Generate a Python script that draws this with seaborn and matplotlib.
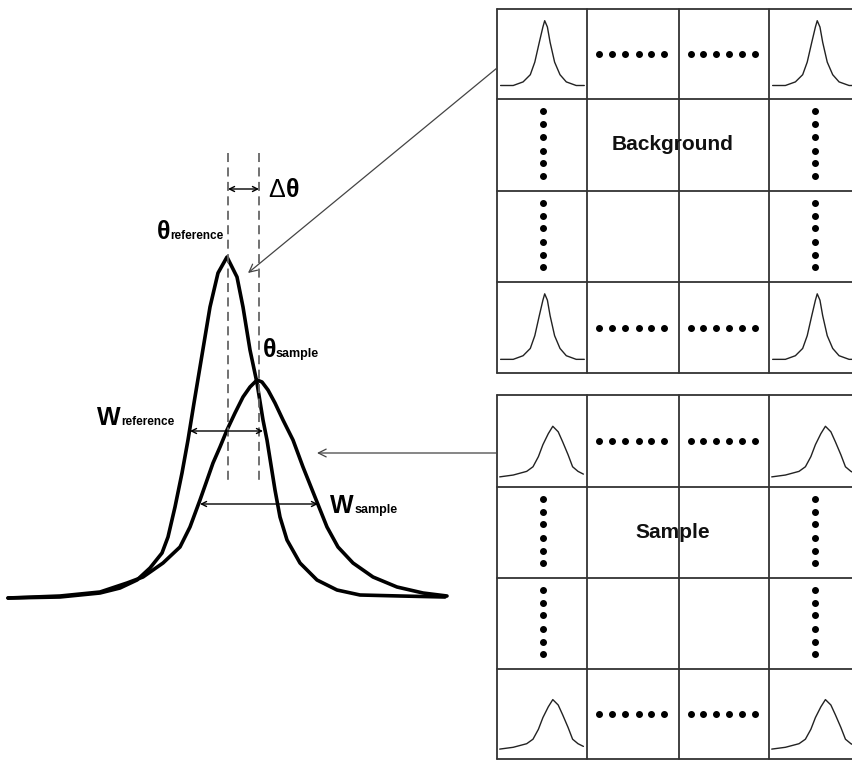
import numpy as np
import matplotlib
matplotlib.use("Agg")
import matplotlib.pyplot as plt
import seaborn as sns

sns.set_theme(style="white")
plt.rcParams['font.family'] = ['Liberation Sans', 'DejaVu Sans']
plt.rcParams['text.color'] = 'black'

# main peaks (pixel coords, y down)
ref_x = [8, 60, 100, 120, 137, 150, 162, 168, 175, 182, 188, 194, 200, 205,
         210, 218, 227, 237, 243, 250, 257, 263, 267, 275, 280,
         287, 300, 317, 337, 360, 400, 445]
ref_y = [598, 597, 593, 588, 580, 568, 553, 537, 507, 473, 440, 403, 367, 337,
         307, 273, 257, 277, 307, 350, 383, 420, 440, 490, 517,
         540, 563, 580, 590, 595, 596, 597]
smp_x = [8, 60, 100, 127, 143, 163, 180, 190, 200, 206, 213, 220, 227, 235,
         243, 250, 257, 262, 268, 275, 283, 293, 303, 317, 327, 338, 353,
         373, 397, 423, 447]
smp_y = [598, 596, 592, 583, 577, 563, 547, 527, 500, 483, 463, 447, 430, 413,
         397, 387, 380, 382, 390, 403, 420, 440, 467, 502, 527, 547, 563,
         577, 587, 593, 596]

# small peaks inside the grid cells (fraction of cell, y from top)
bg_px = [0.04, 0.18, 0.29, 0.37, 0.42, 0.47, 0.51, 0.53, 0.56, 0.59, 0.64,
         0.70, 0.77, 0.88, 0.97]
bg_py = [0.85, 0.85, 0.81, 0.73, 0.59, 0.37, 0.20, 0.13, 0.20, 0.37, 0.59,
         0.73, 0.81, 0.85, 0.85]
sm_px = [0.03, 0.18, 0.33, 0.40, 0.46, 0.51, 0.57, 0.62, 0.68, 0.73, 0.79,
         0.84, 0.90, 0.96]
sm_py = [0.89, 0.87, 0.83, 0.78, 0.67, 0.54, 0.42, 0.34, 0.40, 0.51, 0.65,
         0.78, 0.83, 0.86]

grid_labels = ["Background", "Sample"]
dot_pos = [0.13, 0.27, 0.41, 0.56, 0.70, 0.84]

fig = plt.figure(figsize=(8.52, 7.6), dpi=100)
ax = fig.add_axes([0, 0, 1, 1])
ax.set_xlim(0, 852)
ax.set_ylim(760, 0)
ax.axis('off')

sns.lineplot(x=ref_x, y=ref_y, sort=False, estimator=None, color='black',
             lw=2.6, ax=ax)
sns.lineplot(x=smp_x, y=smp_y, sort=False, estimator=None, color='black',
             lw=2.6, ax=ax)

# dashed peak positions
for xv in [228, 259]:
    ax.plot([xv, xv], [153, 480], ls=(0, (5, 3)), color='#666666', lw=1.3)

def dbl(x0, x1, y):
    ax.annotate('', xy=(x1, y), xytext=(x0, y),
                arrowprops=dict(arrowstyle='<->', color='black', lw=1.0,
                                shrinkA=0, shrinkB=0, mutation_scale=9))

dbl(228, 259, 189)
dbl(190, 263, 431)
dbl(200, 318, 504)

big = 18
small = 8.5
ax.text(268, 197, 'Δ', fontsize=big, va='baseline')
ax.text(286, 197, 'θ', fontsize=big, va='baseline', fontweight='bold')
ax.text(157, 239, 'θ', fontsize=big, va='baseline', fontweight='bold')
ax.text(170, 239, 'reference', fontsize=small, va='baseline', fontweight='bold')
ax.text(263, 357, 'θ', fontsize=big, va='baseline', fontweight='bold')
ax.text(276, 357, 'sample', fontsize=small+0.5, va='baseline', fontweight='bold')
ax.text(97, 425, 'W', fontsize=big, va='baseline', fontweight='bold')
ax.text(121, 425, 'reference', fontsize=small, va='baseline', fontweight='bold')
ax.text(330, 513, 'W', fontsize=big, va='baseline', fontweight='bold')
ax.text(355, 513, 'sample', fontsize=small+0.5, va='baseline', fontweight='bold')

# pointer arrows from the grids
ax.annotate('', xy=(248, 273), xytext=(497, 68),
            arrowprops=dict(arrowstyle='->', color='#444444', lw=0.9,
                            shrinkA=0, shrinkB=0, mutation_scale=14))
ax.annotate('', xy=(317, 453), xytext=(497, 453),
            arrowprops=dict(arrowstyle='->', color='#444444', lw=0.9,
                            shrinkA=0, shrinkB=0, mutation_scale=14))

# the two 4x4 grids
col_x = [497, 587, 679, 769, 860]
grids = [([9, 99, 191, 282, 373], bg_px, bg_py),
         ([395, 487, 578, 669, 759], sm_px, sm_py)]
for (row_y, px, py), label in zip(grids, grid_labels):
    for xv in col_x:
        ax.plot([xv, xv], [row_y[0], row_y[-1]], color='#333333', lw=1.3)
    for yv in row_y:
        ax.plot([col_x[0], col_x[-1]], [yv, yv], color='#333333', lw=1.3)
    for r in [0, 3]:
        for c in [0, 3]:
            x0, w = col_x[c], col_x[c + 1] - col_x[c]
            y0, h = row_y[r], row_y[r + 1] - row_y[r]
            ax.plot(x0 + np.array(px) * w, y0 + np.array(py) * h,
                    color='#222222', lw=1.0)
        for c in [1, 2]:
            x0, w = col_x[c], col_x[c + 1] - col_x[c]
            yc = (row_y[r] + row_y[r + 1]) / 2
            ax.plot(x0 + np.array(dot_pos) * w, [yc] * 6, 'o', color='black',
                    ms=4)
    for r in [1, 2]:
        y0, h = row_y[r], row_y[r + 1] - row_y[r]
        for c in [0, 3]:
            xc = (col_x[c] + 45.5)
            ax.plot([xc] * 6, y0 + np.array(dot_pos) * h, 'o', color='black',
                    ms=4)
    ax.text(col_x[2] - 6, (row_y[1] + row_y[2]) / 2, label, fontsize=15,
            fontweight='bold', ha='center', va='center', color='#111111')

fig.savefig('out.png', dpi=100, facecolor='white')
